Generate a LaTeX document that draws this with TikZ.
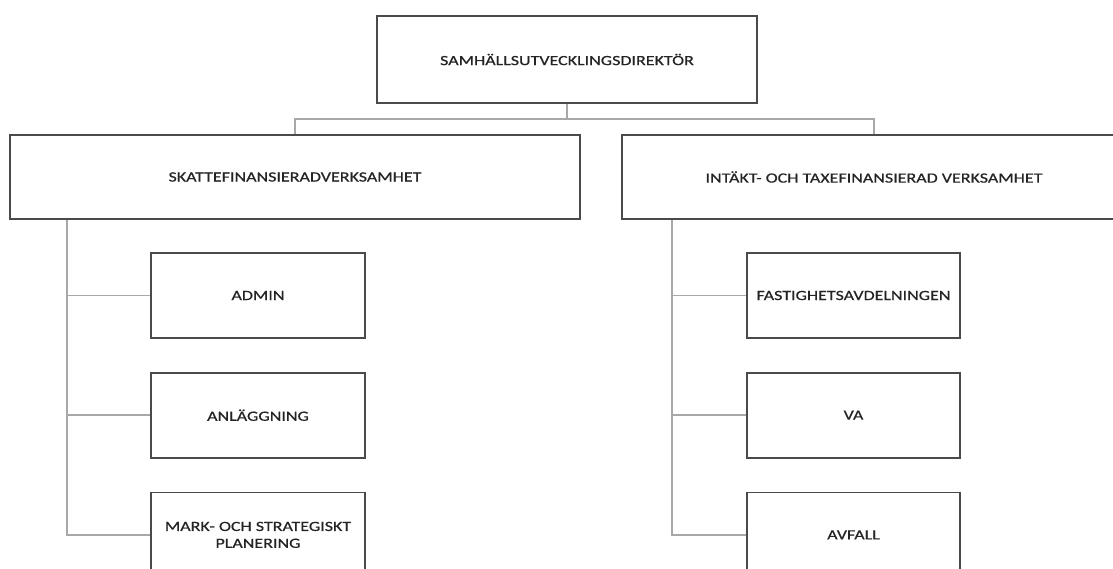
\documentclass[tikz,border=0pt]{standalone}
\usepackage{fontspec}
\setmainfont{Carlito}[FakeStretch=1.28,FakeBold=0.6]
\usepackage{tikz}
\usetikzlibrary{positioning}
\definecolor{boxgray}{HTML}{4A4A4A}
\definecolor{linkgray}{HTML}{A8A8A8}
\definecolor{textgray}{HTML}{242424}

\begin{document}
\begin{tikzpicture}[node distance=0.825cm,
                    box/.style={rectangle,draw=boxgray,line width=1.2pt,fill=white,text=textgray,
                                font=\fontsize{10}{12}\selectfont,align=center,inner sep=0pt},
                    sub node/.style={box,minimum width=5.35cm,minimum height=2.125cm},
                    link/.style={draw=linkgray,line width=1pt}]
  \useasboundingbox (0,0) rectangle (27.825,-14.2);

  \node[box,minimum width=9.5cm,minimum height=2.175cm] (dir) at (14.175,-1.4875) {SAMHÄLLSUTVECKLINGSDIREKTÖR};
  \node[box,minimum width=14.25cm,minimum height=2.1cm] (skatt) at (7.375,-4.425) {SKATTEFINANSIERADVERKSAMHET};
  \node[box,minimum width=12.6cm,minimum height=2.1cm] (taxa) at (21.85,-4.425) {INTÄKT- OCH TAXEFINANSIERAD VERKSAMHET};

  \node[sub node] (admin) at (6.45,-7.3875) {ADMIN};
  \node[sub node] (anl) [below=of admin] {ANLÄGGNING};
  \node[sub node] (mark) [below=of anl] {MARK- OCH STRATEGISKT\\PLANERING};

  \node[sub node,minimum width=5.325cm] (fast) at (21.3375,-7.3875) {FASTIGHETSAVDELNINGEN};
  \node[sub node,minimum width=5.325cm] (va) [below=of fast] {VA};
  \node[sub node,minimum width=5.325cm] (avfall) [below=of va] {AVFALL};

  % connectors
  \coordinate[below=0.375cm of dir.south] (bus);
  \draw[link] (dir.south) -- (bus);
  \draw[link] (skatt.north) |- (bus) -| (taxa.north);

  \coordinate[right=1.45cm of skatt.south west] (ltrunk);
  \draw[link] (ltrunk) |- (admin.west);
  \draw[link] (ltrunk) |- (anl.west);
  \draw[link] (ltrunk) |- (mark.west);

  \coordinate[right=1.275cm of taxa.south west] (rtrunk);
  \draw[link] (rtrunk) |- (fast.west);
  \draw[link] (rtrunk) |- (va.west);
  \draw[link] (rtrunk) |- (avfall.west);

\end{tikzpicture}
\end{document}
